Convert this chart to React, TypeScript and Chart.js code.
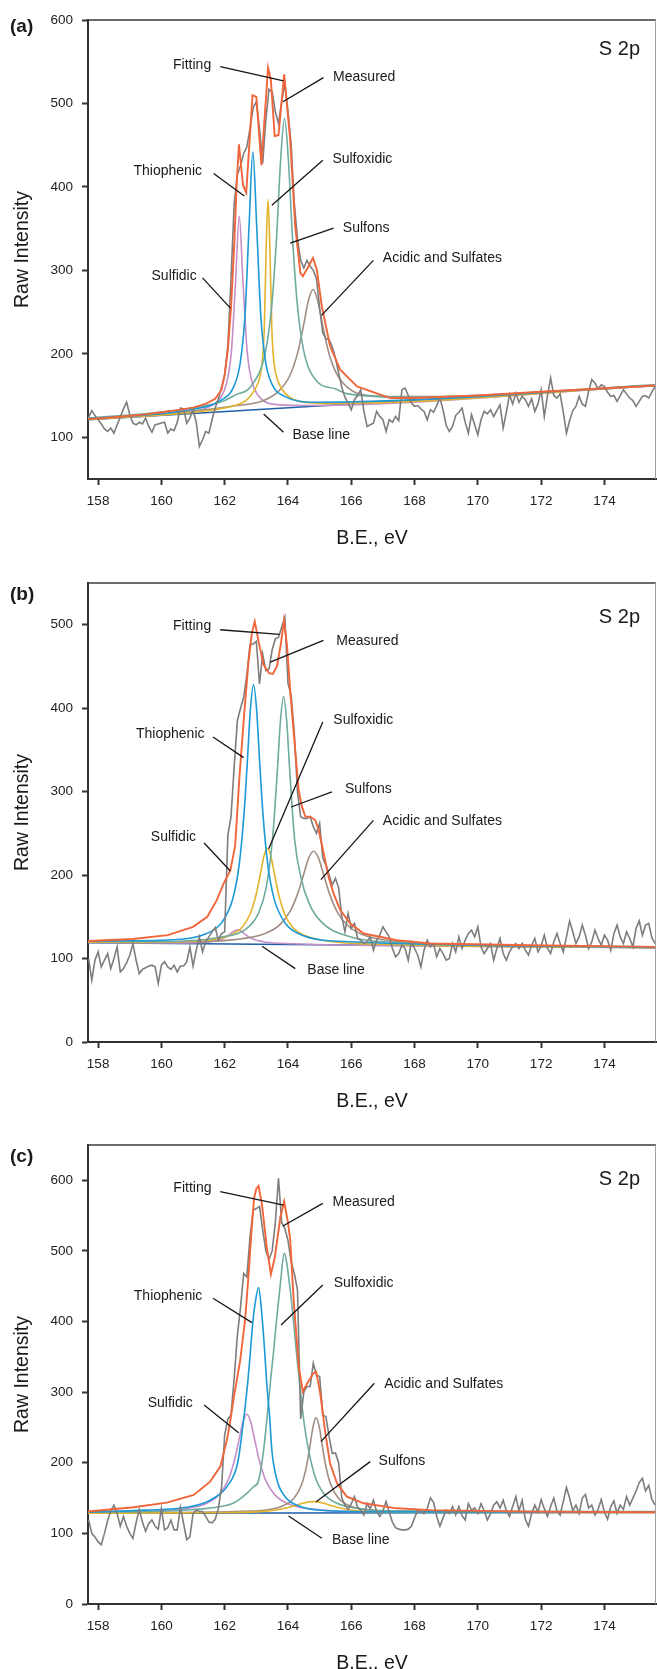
import React, { useEffect, useRef } from 'react';
import { Chart, registerables } from 'chart.js';

Chart.register(...registerables);

const FONT = '"Liberation Sans", Arial, Helvetica, sans-serif';

// ---------- shared axis data ----------
const X_MIN = 157.68;
const X_MAX = 175.63;
const X_TICKS = [158, 160, 162, 164, 166, 168, 170, 172, 174];
const MEAS_START = 157.7;
const MEAS_STEP = 0.1;
const X_TITLE = 'B.E., eV';
const Y_TITLE = 'Raw Intensity';
const TAG = 'S 2p';

// ---------- colours ----------
const C_MEAS = '#7d7d7d';
const C_FIT = '#f0653a';
const C_THIO = '#1b9ad6';
const C_SULFOX = '#e3b42b';
const C_SULFONS = '#6fab9e';
const C_ACID = '#a08d83';
const C_SULFIDIC = '#c58fc9';
const C_BASE = '#1f5ea8';

// ================= PANEL (a) =================
const A_Y_MIN = 50;
const A_Y_MAX = 600;
const A_Y_TICKS = [100, 200, 300, 400, 500, 600];
const A_MEASURED = [
  124, 132, 126, 121, 116, 110, 107, 111, 105, 115,
  124, 134, 142, 127, 117, 115, 118, 116, 123, 113,
  106, 115, 116, 117, 118, 105, 110, 108, 118, 135,
  134, 117, 123, 133, 118, 89, 97, 107, 105, 121,
  135, 146, 160, 175, 210, 290, 380, 415, 425, 440,
  448, 470, 495, 502, 470, 428, 480, 517, 514, 490,
  476, 502, 524, 490, 450, 380, 338, 312, 303, 312,
  305, 300, 290, 255, 225, 218, 217, 208, 195, 177,
  160, 148, 141, 133, 145, 150, 157, 131, 113, 115,
  117, 131, 125, 121, 107, 121, 118, 125, 120, 157,
  159, 150, 141, 137, 138, 134, 131, 121, 133, 130,
  138, 147, 133, 114, 107, 113, 126, 130, 135, 118,
  105, 127, 115, 103, 121, 131, 128, 133, 125, 132,
  139, 111, 130, 151, 140, 153, 142, 149, 145, 137,
  146, 131, 140, 157, 125, 150, 171, 150, 147, 152,
  130, 105, 120, 132, 137, 149, 140, 137, 155, 169,
  165, 158, 163, 161, 154, 149, 150, 143, 150, 157,
  152, 147, 144, 137, 143, 149, 150, 147, 154, 161,
];
const A_FIT_X = [157.68, 158.5, 159.5, 160.0, 160.5, 161.0, 161.4, 161.7, 161.9, 162.0, 162.1, 162.2, 162.3, 162.38, 162.45, 162.58, 162.68, 162.88, 163.0, 163.16, 163.37, 163.46, 163.58, 163.7, 163.88, 164.07, 164.23, 164.39, 164.47, 164.65, 164.79, 164.91, 165.07, 165.33, 165.65, 166.18, 167.23, 168.0, 170.0, 172.0, 175.63];
const A_FIT_Y = [121.8, 124, 127.5, 130, 132.5, 135.5, 140, 146, 157, 175, 205, 255, 330, 405, 451, 402, 393, 510, 508, 426, 543, 528, 461, 462, 535, 456, 352, 297, 293, 305, 315, 301, 257, 209, 181, 161, 147, 147, 150, 154.5, 162];
const A_SULFIDIC_X = [157.68, 160.46, 161.46, 161.86, 162.06, 162.21, 162.34, 162.46, 162.58, 162.71, 162.86, 163.06, 163.46, 164.46, 175.63];
const A_SULFIDIC_Y = [121.3, 128.9, 135.8, 147, 165, 202, 284, 365, 284, 203, 167, 150, 140, 138, 162];
const A_THIO_X = [157.68, 160.89, 161.89, 162.29, 162.49, 162.64, 162.77, 162.89, 163.01, 163.14, 163.29, 163.49, 163.89, 164.89, 175.63];
const A_THIO_Y = [122, 133, 144.5, 161, 189, 245, 353, 442, 354, 246, 191, 164, 149, 142, 162];
const A_SULFOX_X = [157.68, 161.37, 162.37, 162.67, 162.92, 163.07, 163.17, 163.25, 163.31, 163.37, 163.43, 163.49, 163.57, 163.67, 163.82, 164.07, 164.37, 165.37, 175.63];
const A_SULFOX_Y = [121.5, 131.4, 138.6, 144, 155, 167, 185, 229, 324, 385, 324, 229, 186, 169, 157, 147.5, 143, 140.5, 162];
const A_SULFONS_X = [157.68, 159.89, 161.89, 162.3, 162.89, 163.29, 163.49, 163.64, 163.77, 163.89, 164.01, 164.14, 164.29, 164.49, 164.89, 165.49, 165.89, 167.89, 175.63];
const A_SULFONS_Y = [123, 130, 142.5, 150, 164, 203, 259, 340, 434, 482, 434, 341, 261, 205, 168, 158, 152, 148, 163];
const A_ACID_X = [157.68, 160.79, 162.29, 163.19, 163.69, 164.04, 164.29, 164.49, 164.64, 164.79, 164.94, 165.09, 165.29, 165.54, 165.89, 166.39, 167.29, 168.79, 175.63];
const A_ACID_Y = [122.5, 130.6, 137.5, 143.5, 154.7, 172.5, 199, 233.5, 263, 277, 263.5, 235, 201, 176, 159.6, 150.8, 148.8, 148.7, 162.5];
const A_BASE_X = [157.68, 175.63];
const A_BASE_Y = [121, 161.7];
const A_NOTES = [
  { text: 'Fitting', tx: 160.97, ty: 546, x1: 161.86, y1: 544, x2: 163.86, y2: 527 },
  { text: 'Measured', tx: 166.41, ty: 532, x1: 165.12, y1: 531, x2: 163.84, y2: 502 },
  { text: 'Thiophenic', tx: 160.2, ty: 419, x1: 161.65, y1: 416, x2: 162.62, y2: 389 },
  { text: 'Sulfoxidic', tx: 166.35, ty: 433, x1: 165.1, y1: 432, x2: 163.49, y2: 378 },
  { text: 'Sulfons', tx: 166.47, ty: 350.5, x1: 165.44, y1: 350.5, x2: 164.07, y2: 332.6 },
  { text: 'Acidic and Sulfates', tx: 168.88, ty: 314.6, x1: 166.7, y1: 312, x2: 165.06, y2: 246 },
  { text: 'Sulfidic', tx: 160.4, ty: 293.4, x1: 161.3, y1: 291, x2: 162.18, y2: 254.8 },
  { text: 'Base line', tx: 165.05, ty: 103, x1: 163.23, y1: 128, x2: 163.86, y2: 106 },
];

// ================= PANEL (b) =================
const B_Y_MIN = 0;
const B_Y_MAX = 550;
const B_Y_TICKS = [0, 100, 200, 300, 400, 500];
const B_MEASURED = [
  100, 74, 98, 108, 90, 98, 106, 88, 100, 114,
  84, 88, 95, 104, 118, 98, 82, 87, 89, 91,
  92, 90, 70, 92, 96, 90, 87, 92, 84, 91,
  91, 96, 114, 91, 110, 126, 108, 120, 126, 132,
  137, 122, 130, 132, 248, 270, 330, 385, 400, 413,
  440, 476, 477, 480, 429, 465, 445, 447, 470, 483,
  485, 497, 509, 430, 415, 370, 300, 270, 268, 268,
  270, 258, 250, 262, 220, 212, 200, 188, 196, 185,
  150, 132, 154, 136, 142, 124, 122, 118, 120, 126,
  110, 122, 128, 138, 132, 126, 112, 102, 106, 116,
  112, 98, 120, 112, 104, 90, 110, 122, 114, 118,
  102, 112, 106, 98, 100, 118, 108, 126, 112, 122,
  130, 134, 126, 138, 114, 106, 112, 118, 98, 112,
  124, 106, 98, 108, 114, 118, 112, 118, 110, 104,
  116, 124, 108, 115, 128, 112, 106, 120, 130, 118,
  108, 126, 145, 132, 118, 126, 140, 128, 112, 120,
  134, 124, 116, 128, 122, 110, 130, 140, 126, 118,
  132, 124, 114, 136, 145, 128, 140, 142, 125, 118,
];
const B_FIT_X = [157.68, 159.1, 160.2, 161.0, 161.45, 161.75, 161.97, 162.18, 162.33, 162.47, 162.6, 162.75, 162.86, 162.95, 163.07, 163.23, 163.4, 163.52, 163.65, 163.78, 163.87, 163.97, 164.07, 164.23, 164.34, 164.44, 164.55, 164.7, 164.86, 164.97, 165.13, 165.28, 165.44, 165.65, 165.97, 166.39, 167.44, 168.5, 171.66, 175.63];
const B_FIT_Y = [121, 123.5, 128, 138, 150, 170, 190, 206, 235, 320, 385, 455, 490, 504, 480, 452, 442, 441, 450, 478, 505, 475, 421, 349, 301, 282, 270, 270, 266, 254, 226, 198, 178, 158, 142, 130, 122, 118, 116, 114];
const B_SULFIDIC_X = [157.68, 159.91, 161.11, 161.61, 161.91, 162.11, 162.26, 162.41, 162.56, 162.71, 162.91, 163.21, 163.71, 164.91, 175.63];
const B_SULFIDIC_Y = [119.2, 118.6, 119, 120.4, 123.2, 127.4, 131.9, 134.5, 131.8, 127.2, 123, 120.2, 118.3, 116.9, 113.1];
const B_THIO_X = [157.68, 160.41, 161.41, 161.91, 162.26, 162.46, 162.61, 162.71, 162.81, 162.91, 163.01, 163.11, 163.21, 163.36, 163.56, 163.91, 164.41, 165.41, 175.63];
const B_THIO_Y = [121, 122.5, 129.6, 143.3, 172.2, 213.2, 272.9, 332.4, 397.3, 428.3, 397.3, 332.3, 272.7, 212.8, 171.8, 142.6, 128.5, 121, 114];
const B_SULFOX_X = [157.68, 159.35, 161.35, 162.15, 162.55, 162.8, 163.0, 163.15, 163.25, 163.35, 163.45, 163.55, 163.7, 163.9, 164.15, 164.55, 165.35, 167.35, 175.63];
const B_SULFOX_Y = [119.5, 119.4, 121.6, 127.6, 137.6, 153, 177.7, 205.9, 224, 231.7, 224, 205.8, 177.6, 152.8, 137.3, 127.3, 120.4, 116.7, 113.3];
const B_SULFONS_X = [157.68, 159.86, 161.86, 162.66, 163.06, 163.31, 163.51, 163.66, 163.76, 163.86, 163.96, 164.06, 164.21, 164.41, 164.66, 165.06, 165.86, 167.86, 175.63];
const B_SULFONS_Y = [120.5, 120.3, 125.6, 134.9, 153.8, 185, 243, 322.6, 384, 414, 384, 322.5, 242.8, 196.8, 166.7, 143.6, 127.3, 118.6, 113.3];
const B_ACID_X = [157.68, 160.81, 162.31, 163.21, 163.71, 164.06, 164.31, 164.51, 164.66, 164.81, 164.96, 165.11, 165.31, 165.56, 165.91, 166.41, 167.31, 168.81, 175.63];
const B_ACID_Y = [120, 120.1, 122.7, 129, 139.4, 156.1, 178.1, 202.9, 221, 228.6, 220.9, 202.7, 177.8, 155.6, 138.7, 127.9, 121, 117.4, 113.2];
const B_BASE_X = [157.68, 175.63];
const B_BASE_Y = [119, 113];
const B_NOTES = [
  { text: 'Fitting', tx: 160.97, ty: 498, x1: 161.86, y1: 494, x2: 163.73, y2: 488.5 },
  { text: 'Measured', tx: 166.51, ty: 480.5, x1: 165.12, y1: 481.3, x2: 163.44, y2: 455.3 },
  { text: 'Thiophenic', tx: 160.28, ty: 368.3, x1: 161.63, y1: 365.5, x2: 162.6, y2: 340.8 },
  { text: 'Sulfoxidic', tx: 166.38, ty: 385.5, x1: 165.1, y1: 383.4, x2: 163.39, y2: 231.7 },
  { text: 'Sulfons', tx: 166.54, ty: 302.4, x1: 165.39, y1: 299.6, x2: 164.1, y2: 281.6 },
  { text: 'Acidic and Sulfates', tx: 168.88, ty: 264.4, x1: 166.7, y1: 265.6, x2: 165.04, y2: 194.6 },
  { text: 'Sulfidic', tx: 160.38, ty: 245.3, x1: 161.35, y1: 238.4, x2: 162.18, y2: 204.9 },
  { text: 'Base line', tx: 165.52, ty: 86.7, x1: 163.18, y1: 114.7, x2: 164.23, y2: 87.9 },
];

// ================= PANEL (c) =================
const C_Y_MIN = 0;
const C_Y_MAX = 650;
const C_Y_TICKS = [0, 100, 200, 300, 400, 500, 600];
const C_MEASURED = [
  119, 100, 95, 88, 84, 100, 118, 132, 140, 128,
  110, 124, 110, 100, 93, 115, 134, 116, 103, 114,
  119, 110, 106, 135, 105, 108, 119, 105, 105, 137,
  114, 91, 95, 128, 133, 131, 131, 124, 116, 115,
  120, 135, 165, 240, 262, 268, 320, 380, 420, 468,
  463, 520, 558, 560, 563, 530, 500, 488, 500, 540,
  603, 540, 532, 515, 485, 468, 445, 262, 300, 308,
  308, 341, 324, 322, 268, 265, 237, 213, 214, 200,
  150, 140, 134, 142, 152, 137, 133, 126, 142, 135,
  147, 131, 124, 132, 145, 130, 116, 108, 106, 105,
  105, 106, 110, 122, 133, 131, 128, 135, 150, 144,
  124, 110, 122, 133, 128, 138, 126, 138, 125, 119,
  142, 133, 136, 128, 142, 132, 119, 128, 140, 145,
  136, 147, 132, 124, 138, 152, 132, 147, 120, 110,
  128, 140, 130, 148, 135, 124, 138, 150, 132, 126,
  145, 165, 150, 132, 140, 128, 150, 155, 136, 140,
  126, 134, 148, 130, 120, 138, 146, 128, 140, 134,
  152, 140, 150, 160, 172, 178, 160, 168, 148, 140,
];
const C_FIT_X = [157.68, 159.12, 160.17, 161.02, 161.54, 161.86, 162.07, 162.18, 162.28, 162.49, 162.65, 162.76, 162.85, 162.93, 163.0, 163.07, 163.18, 163.33, 163.46, 163.58, 163.76, 163.88, 164.0, 164.07, 164.18, 164.34, 164.47, 164.6, 164.81, 164.89, 165.02, 165.18, 165.33, 165.55, 165.86, 166.39, 167.44, 168.5, 171.66, 175.63];
const C_FIT_Y = [131, 137, 143.5, 154.4, 173.3, 194.5, 232, 260.6, 290, 345, 405, 470, 530, 575, 588, 592, 565, 505, 467, 490, 548, 570, 540, 516, 430, 336, 301, 312, 327, 329, 298, 242, 199, 171, 152, 142.6, 135.5, 133, 130.8, 130];
const C_SULFIDIC_X = [157.68, 159.2, 160.7, 161.4, 161.8, 162.1, 162.3, 162.45, 162.58, 162.7, 162.82, 162.95, 163.1, 163.3, 163.6, 164.0, 164.7, 166.2, 175.63];
const C_SULFIDIC_Y = [129.5, 130.6, 134.6, 141.9, 153.7, 174.7, 202.1, 232.1, 258.1, 268.8, 258.2, 232.2, 202.2, 174.8, 153.8, 142, 134.7, 131, 130.5];
const C_THIO_X = [157.68, 159.5, 160.8, 161.54, 162.1, 162.41, 162.6, 162.72, 162.8, 162.88, 162.96, 163.07, 163.18, 163.26, 163.33, 163.42, 163.49, 163.65, 163.91, 164.39, 165.33, 167.0, 175.63];
const C_THIO_Y = [130.5, 133, 137, 147, 168, 200, 262, 310, 350, 395, 425, 448, 407, 360, 312, 265, 218, 176, 152, 138, 132, 130.5, 130];
const C_SULFOX_X = [157.68, 162.3, 163.3, 163.8, 164.2, 164.5, 164.8, 165.1, 165.4, 165.8, 166.3, 167.3, 175.63];
const C_SULFOX_Y = [128.6, 129.5, 131.5, 134.5, 139, 143, 145, 143, 139, 134.5, 131.5, 130, 129.6];
const C_SULFONS_X = [157.68, 160.38, 161.88, 162.28, 162.58, 162.91, 163.07, 163.23, 163.34, 163.44, 163.55, 163.65, 163.76, 163.88, 164.07, 164.18, 164.28, 164.39, 164.51, 164.65, 164.86, 165.12, 165.55, 166.18, 167.44, 175.63];
const C_SULFONS_Y = [130, 132, 138, 143, 152, 166, 175, 218, 265, 312, 360, 407, 454, 496.5, 444.7, 397.5, 350, 303, 256, 218, 180, 156.8, 142.6, 135.5, 131.7, 131];
const C_ACID_X = [157.68, 162.89, 163.79, 164.19, 164.44, 164.59, 164.69, 164.79, 164.89, 164.99, 165.09, 165.19, 165.34, 165.59, 165.99, 166.89, 175.63];
const C_ACID_Y = [129, 131.8, 138.2, 149.9, 170.4, 196.4, 222.3, 250.4, 264, 250.5, 222.4, 196.5, 170.5, 150, 138.3, 132, 130];
const C_BASE_X = [157.68, 175.63];
const C_BASE_Y = [128.5, 129.5];
const C_NOTES = [
  { text: 'Fitting', tx: 160.98, ty: 588.7, x1: 161.86, y1: 583.9, x2: 163.86, y2: 565 },
  { text: 'Measured', tx: 166.39, ty: 569.7, x1: 165.1, y1: 567.4, x2: 163.84, y2: 535.3 },
  { text: 'Thiophenic', tx: 160.21, ty: 436.6, x1: 161.63, y1: 433, x2: 162.86, y2: 398.4 },
  { text: 'Sulfoxidic', tx: 166.39, ty: 455, x1: 165.1, y1: 451.8, x2: 163.78, y2: 395.1 },
  { text: 'Acidic and Sulfates', tx: 168.92, ty: 311, x1: 166.73, y1: 312.6, x2: 165.04, y2: 229.9 },
  { text: 'Sulfidic', tx: 160.28, ty: 285.1, x1: 161.35, y1: 281.8, x2: 162.44, y2: 242.6 },
  { text: 'Sulfons', tx: 167.6, ty: 203, x1: 166.6, y1: 201.6, x2: 164.89, y2: 144.9 },
  { text: 'Base line', tx: 166.3, ty: 90.7, x1: 164.02, y1: 124.6, x2: 165.07, y2: 93 },
];

type Note = { text: string; tx: number; ty: number; x1: number; y1: number; x2: number; y2: number };
type Series = { name: string; xs: number[]; ys: number[]; color: string; width: number; smooth: boolean };
type PanelDef = {
  label: string;
  yMin: number;
  yMax: number;
  yTicks: number[];
  measured: number[];
  series: Series[];
  notes: Note[];
  labelDy: number;
  tagDy: number;
};

function comps(fx: number[], fy: number[], th: [number[], number[]], sn: [number[], number[]], sx: [number[], number[]], ac: [number[], number[]], sd: [number[], number[]], bs: [number[], number[]]): Series[] {
  return [
    { name: 'Fitting', xs: fx, ys: fy, color: C_FIT, width: 1.9, smooth: false },
    { name: 'Thiophenic', xs: th[0], ys: th[1], color: C_THIO, width: 1.6, smooth: true },
    { name: 'Sulfons', xs: sn[0], ys: sn[1], color: C_SULFONS, width: 1.6, smooth: true },
    { name: 'Sulfoxidic', xs: sx[0], ys: sx[1], color: C_SULFOX, width: 1.6, smooth: true },
    { name: 'Acidic and Sulfates', xs: ac[0], ys: ac[1], color: C_ACID, width: 1.6, smooth: true },
    { name: 'Sulfidic', xs: sd[0], ys: sd[1], color: C_SULFIDIC, width: 1.6, smooth: true },
    { name: 'Base line', xs: bs[0], ys: bs[1], color: C_BASE, width: 1.6, smooth: false },
  ];
}

const PANELS: PanelDef[] = [
  {
    label: '(a)', yMin: A_Y_MIN, yMax: A_Y_MAX, yTicks: A_Y_TICKS, measured: A_MEASURED, notes: A_NOTES,
    series: comps(A_FIT_X, A_FIT_Y, [A_THIO_X, A_THIO_Y], [A_SULFONS_X, A_SULFONS_Y], [A_SULFOX_X, A_SULFOX_Y], [A_ACID_X, A_ACID_Y], [A_SULFIDIC_X, A_SULFIDIC_Y], [A_BASE_X, A_BASE_Y]),
    labelDy: 11.5, tagDy: 35,
  },
  {
    label: '(b)', yMin: B_Y_MIN, yMax: B_Y_MAX, yTicks: B_Y_TICKS, measured: B_MEASURED, notes: B_NOTES,
    series: comps(B_FIT_X, B_FIT_Y, [B_THIO_X, B_THIO_Y], [B_SULFONS_X, B_SULFONS_Y], [B_SULFOX_X, B_SULFOX_Y], [B_ACID_X, B_ACID_Y], [B_SULFIDIC_X, B_SULFIDIC_Y], [B_BASE_X, B_BASE_Y]),
    labelDy: 17, tagDy: 40,
  },
  {
    label: '(c)', yMin: C_Y_MIN, yMax: C_Y_MAX, yTicks: C_Y_TICKS, measured: C_MEASURED, notes: C_NOTES,
    series: comps(C_FIT_X, C_FIT_Y, [C_THIO_X, C_THIO_Y], [C_SULFONS_X, C_SULFONS_Y], [C_SULFOX_X, C_SULFOX_Y], [C_ACID_X, C_ACID_Y], [C_SULFIDIC_X, C_SULFIDIC_Y], [C_BASE_X, C_BASE_Y]),
    labelDy: 16.5, tagDy: 40,
  },
];

const PANEL_TOPS = [0, 563, 1125];
const PANEL_HEIGHTS = [563, 562, 544];
const PLOT_TOP = 20;
const PLOT_BOTTOM = 479;
const AXIS_WIDTH = 88;

function Panel({ def, top, height }: { def: PanelDef; top: number; height: number }) {
  const ref = useRef<HTMLCanvasElement>(null);

  useEffect(() => {
    const canvas = ref.current;
    if (!canvas) return;

    const toPts = (xs: number[], ys: number[]) => xs.map((x, i) => ({ x, y: ys[i] }));
    const measuredPts = def.measured.map((v, i) => ({ x: MEAS_START + i * MEAS_STEP, y: v }));

    const mk = (s: Series) => ({
      label: s.name,
      data: toPts(s.xs, s.ys),
      borderColor: s.color,
      backgroundColor: s.color,
      borderWidth: s.width,
      pointRadius: 0,
      fill: false,
      tension: 0,
      cubicInterpolationMode: s.smooth ? 'monotone' : 'default',
    });

    const [fit, ...rest] = def.series;
    const datasets: any[] = [
      mk(fit),
      {
        label: 'Measured', data: measuredPts, borderColor: C_MEAS, backgroundColor: C_MEAS,
        borderWidth: 1.6, pointRadius: 0, fill: false, tension: 0,
      },
      ...rest.map(mk),
    ];

    const decor = {
      id: 'decor',
      afterDatasetsDraw(chart: any) {
        const { ctx, chartArea: ca, scales } = chart;
        const sx = scales.x;
        const sy = scales.y;
        ctx.save();
        // top and right frame
        ctx.strokeStyle = '#3a3a3a';
        ctx.lineWidth = 1.6;
        ctx.beginPath();
        ctx.moveTo(ca.left, ca.top);
        ctx.lineTo(ca.right, ca.top);
        ctx.stroke();
        ctx.strokeStyle = '#a0a0a0';
        ctx.lineWidth = 1;
        ctx.beginPath();
        ctx.moveTo(ca.right - 0.5, ca.top);
        ctx.lineTo(ca.right - 0.5, ca.bottom);
        ctx.stroke();
        // annotations
        ctx.strokeStyle = '#151515';
        ctx.lineWidth = 1.3;
        ctx.fillStyle = '#1a1a1a';
        ctx.font = `14px ${FONT}`;
        ctx.textAlign = 'center';
        ctx.textBaseline = 'middle';
        def.notes.forEach((n) => {
          ctx.beginPath();
          ctx.moveTo(sx.getPixelForValue(n.x1), sy.getPixelForValue(n.y1));
          ctx.lineTo(sx.getPixelForValue(n.x2), sy.getPixelForValue(n.y2));
          ctx.stroke();
          ctx.fillText(n.text, sx.getPixelForValue(n.tx), sy.getPixelForValue(n.ty));
        });
        ctx.restore();
      },
      afterDraw(chart: any) {
        const { ctx, chartArea: ca } = chart;
        ctx.save();
        ctx.fillStyle = '#1a1a1a';
        ctx.textBaseline = 'alphabetic';
        ctx.font = `19.5px ${FONT}`;
        ctx.textAlign = 'center';
        ctx.fillText(X_TITLE, (ca.left + ca.right) / 2, ca.bottom + 64.5);
        ctx.save();
        ctx.translate(27.5, (ca.top + ca.bottom) / 2);
        ctx.rotate(-Math.PI / 2);
        ctx.fillText(Y_TITLE, 0, 0);
        ctx.restore();
        ctx.font = `bold 19px ${FONT}`;
        ctx.textAlign = 'left';
        ctx.fillText(def.label, 10, ca.top + def.labelDy);
        ctx.font = `20px ${FONT}`;
        ctx.textAlign = 'right';
        ctx.fillText(TAG, 640, ca.top + def.tagDy);
        ctx.restore();
      },
    };

    const axisCommon = {
      type: 'linear' as const,
      grid: {
        display: true,
        drawOnChartArea: false,
        drawTicks: true,
        tickLength: 6,
        tickWidth: 2,
        tickColor: '#333',
      },
      border: { display: true, color: '#333', width: 2 },
    };

    const chart = new Chart(canvas, {
      type: 'line',
      data: { datasets },
      plugins: [decor],
      options: {
        responsive: false,
        animation: false,
        devicePixelRatio: 1,
        events: [],
        parsing: true,
        layout: { padding: { left: 0, right: 1, top: PLOT_TOP, bottom: 0 } },
        plugins: { legend: { display: false }, tooltip: { enabled: false } },
        scales: {
          x: {
            ...axisCommon,
            min: X_MIN,
            max: X_MAX,
            afterBuildTicks: (s: any) => { s.ticks = X_TICKS.map((v) => ({ value: v })); },
            afterFit: (s: any) => { s.height = height - PLOT_BOTTOM; },
            ticks: {
              autoSkip: false, maxRotation: 0, padding: 8, color: '#222',
              font: { family: FONT, size: 13.5 },
              callback: (v: any) => String(v),
            },
          },
          y: {
            ...axisCommon,
            min: def.yMin,
            max: def.yMax,
            afterBuildTicks: (s: any) => { s.ticks = def.yTicks.map((v) => ({ value: v })); },
            afterFit: (s: any) => { s.width = AXIS_WIDTH; },
            ticks: {
              autoSkip: false, padding: 9, color: '#222',
              font: { family: FONT, size: 13.5 },
              callback: (v: any) => String(v),
            },
          },
        },
      } as any,
    });

    return () => chart.destroy();
  }, [def, height]);

  return (
    <canvas
      ref={ref}
      width={657}
      height={height}
      style={{ position: 'absolute', left: 0, top, width: 657, height, display: 'block' }}
    />
  );
}

export default function App() {
  return (
    <div style={{ position: 'absolute', left: 0, top: 0, width: 657, height: 1669, background: '#ffffff', overflow: 'hidden' }}>
      {PANELS.map((p, i) => (
        <Panel key={p.label} def={p} top={PANEL_TOPS[i]} height={PANEL_HEIGHTS[i]} />
      ))}
    </div>
  );
}
